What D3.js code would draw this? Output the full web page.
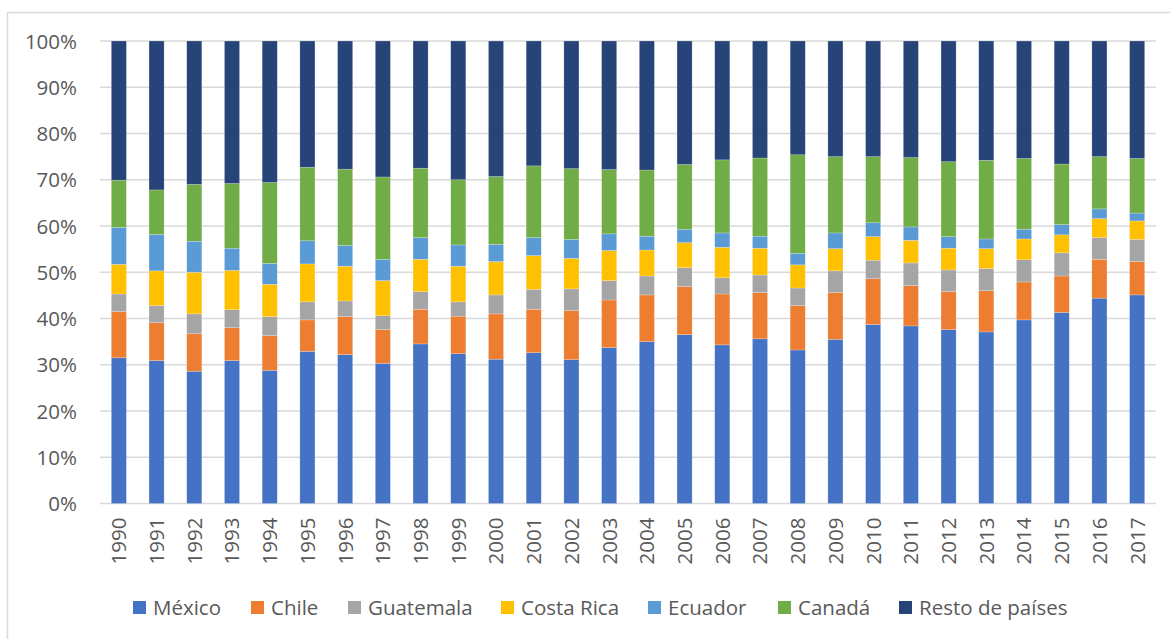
<!DOCTYPE html>
<html>
<head>
<meta charset="utf-8">
<script src="https://cdn.jsdelivr.net/npm/d3@7"></script>
<style>
  html, body { margin: 0; padding: 0; background: #fff; }
  svg { display: block; }
  text { font-family: "Open Sans", "Liberation Sans", sans-serif; fill: #595959; }
</style>
</head>
<body>
<svg id="chart" width="1170" height="639"></svg>
<script>
// Years on the category axis
const years = ["1990","1991","1992","1993","1994","1995","1996","1997","1998","1999",
               "2000","2001","2002","2003","2004","2005","2006","2007","2008","2009",
               "2010","2011","2012","2013","2014","2015","2016","2017"];

// Share of each origin per year (percent)
const mexico     = [31.5,30.9,28.6,30.9,28.8,32.9,32.2,30.3,34.5,32.4,31.2,32.6,31.1,33.7,35.0,36.5,34.3,35.6,33.2,35.5,38.7,38.4,37.6,37.1,39.7,41.3,44.4,45.1];
const chile      = [10.0, 8.2, 8.1, 7.1, 7.5, 6.8, 8.2, 7.3, 7.5, 8.1, 9.8, 9.4,10.6,10.3,10.1,10.4,11.0,10.0, 9.6,10.1, 9.9, 8.7, 8.2, 8.9, 8.2, 7.9, 8.4, 7.2];
const guatemala  = [ 3.8, 3.7, 4.3, 3.9, 4.1, 3.9, 3.4, 3.0, 3.8, 3.1, 4.1, 4.3, 4.7, 4.2, 4.1, 4.1, 3.5, 3.8, 3.8, 4.7, 4.0, 4.9, 4.7, 4.8, 4.8, 5.0, 4.7, 4.8];
const costaRica  = [ 6.4, 7.5, 9.0, 8.5, 7.0, 8.2, 7.5, 7.6, 7.0, 7.7, 7.2, 7.3, 6.6, 6.5, 5.6, 5.4, 6.6, 5.8, 5.0, 4.8, 5.1, 4.9, 4.7, 4.3, 4.5, 3.9, 4.1, 4.0];
const ecuador    = [ 8.0, 7.9, 6.7, 4.8, 4.5, 5.0, 4.5, 4.6, 4.7, 4.6, 3.7, 3.9, 4.1, 3.6, 3.0, 2.9, 3.1, 2.6, 2.5, 3.4, 3.0, 2.9, 2.5, 2.1, 2.1, 2.2, 2.1, 1.7];
const canada     = [10.2, 9.6,12.3,14.0,17.5,15.9,16.5,17.8,15.0,14.1,14.7,15.5,15.3,13.9,14.3,14.0,15.8,16.9,21.3,16.5,14.3,15.0,16.2,17.0,15.3,13.1,11.3,11.8];
const resto      = [30.1,32.2,31.0,30.8,30.6,27.3,27.7,29.4,27.5,30.0,29.3,27.0,27.6,27.8,27.9,26.7,25.7,25.3,24.6,25.0,25.0,25.2,26.1,25.8,25.4,26.6,25.0,25.4];

const seriesNames  = ["México","Chile","Guatemala","Costa Rica","Ecuador","Canadá","Resto de países"];
const seriesValues = [mexico, chile, guatemala, costaRica, ecuador, canada, resto];
const seriesColors = ["#4472C4","#ED7D31","#A5A5A5","#FFC000","#5B9BD5","#70AD47","#264478"];
const yTicks = [0,0.1,0.2,0.3,0.4,0.5,0.6,0.7,0.8,0.9,1.0];

const svg = d3.select("#chart");

// outer chart frame
svg.append("rect")
  .attr("x", 7.5).attr("y", 12.5)
  .attr("width", 1200).attr("height", 700)
  .attr("fill", "none").attr("stroke", "#d9d9d9").attr("stroke-width", 1.5);

const plot = { left: 100, right: 1156, top: 41, bottom: 503.5 };

// rows normalised to 100 % for the stack
const rows = years.map((y, i) => {
  const total = d3.sum(seriesValues, s => s[i]);
  const r = { year: y };
  seriesNames.forEach((n, k) => { r[n] = seriesValues[k][i] / total; });
  return r;
});

const x = d3.scaleBand().domain(years).range([plot.left, plot.right]).paddingInner(0.6).paddingOuter(0.3);
const y = d3.scaleLinear().domain([0, 1]).range([plot.bottom, plot.top]);
const color = d3.scaleOrdinal().domain(seriesNames).range(seriesColors);

// gridlines
svg.append("g")
  .selectAll("line")
  .data(yTicks)
  .join("line")
  .attr("x1", plot.left).attr("x2", plot.right)
  .attr("y1", d => y(d)).attr("y2", d => y(d))
  .attr("stroke", "#d9d9d9").attr("stroke-width", 1.3);

// stacked bars
const stacked = d3.stack().keys(seriesNames)(rows);
svg.append("g")
  .selectAll("g")
  .data(stacked)
  .join("g")
  .attr("fill", d => color(d.key))
  .selectAll("rect")
  .data(d => d)
  .join("rect")
  .attr("x", d => x(d.data.year))
  .attr("width", x.bandwidth())
  .attr("y", d => y(d[1]))
  .attr("height", d => y(d[0]) - y(d[1]))
  .attr("stroke", "#ffffff").attr("stroke-opacity", 0.35).attr("stroke-width", 0.6);

// y axis labels
const yAxis = d3.axisLeft(y).tickValues(yTicks).tickFormat(d3.format(".0%")).tickSize(0).tickPadding(0);
svg.append("g")
  .attr("transform", `translate(77,0)`)
  .call(yAxis)
  .call(g => g.select(".domain").remove())
  .selectAll("text")
  .attr("font-family", "Open Sans, Liberation Sans, sans-serif")
  .attr("font-size", 20.5)
  .attr("fill", "#595959")
  .attr("dy", "0.35em");

// x axis labels, rotated
const xAxis = d3.axisBottom(x).tickSize(0).tickPadding(0);
svg.append("g")
  .attr("transform", `translate(0,${plot.bottom})`)
  .call(xAxis)
  .call(g => g.select(".domain").remove())
  .selectAll("text")
  .attr("font-family", "Open Sans, Liberation Sans, sans-serif")
  .attr("font-size", 20.5)
  .attr("fill", "#595959")
  .attr("text-anchor", "end")
  .attr("transform", "rotate(-90)")
  .attr("x", -14)
  .attr("y", 0)
  .attr("dy", "0.36em");

// legend
const legendX = [133, 251, 348, 501, 648, 778, 899];
const legend = svg.append("g")
  .selectAll("g")
  .data(seriesNames)
  .join("g")
  .attr("transform", (d, i) => `translate(${legendX[i]},601)`);
legend.append("rect")
  .attr("width", 13).attr("height", 13)
  .attr("fill", d => color(d));
legend.append("text")
  .attr("x", 20).attr("y", 6.5).attr("dy", "0.36em")
  .attr("font-size", 20.5)
  .text(d => d);
</script>
</body>
</html>
